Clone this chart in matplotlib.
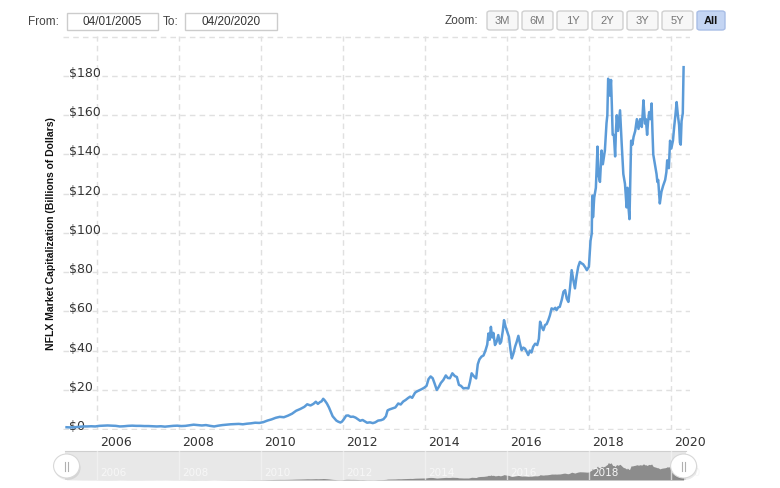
import matplotlib
matplotlib.use("Agg")
import matplotlib.pyplot as plt
from matplotlib.patches import FancyBboxPatch, Rectangle, Ellipse
from matplotlib.transforms import ScaledTranslation

# ---------------- data (decimal year, market cap in $B) ----------------
years = [
    2005.25, 2005.35, 2005.45, 2005.55, 2005.65, 2005.75, 2005.85, 2005.95,
    2006.05, 2006.15, 2006.25, 2006.35, 2006.45, 2006.55, 2006.65, 2006.75, 2006.85, 2006.95,
    2007.05, 2007.15, 2007.25, 2007.35, 2007.45, 2007.55, 2007.65, 2007.75, 2007.85, 2007.95,
    2008.05, 2008.15, 2008.25, 2008.35, 2008.45, 2008.55, 2008.65, 2008.75, 2008.85, 2008.95,
    2009.05, 2009.15, 2009.25, 2009.35, 2009.45, 2009.55, 2009.65, 2009.75, 2009.85, 2009.95,
    2010.05, 2010.15, 2010.25, 2010.35, 2010.45, 2010.55, 2010.65, 2010.75, 2010.85, 2010.95,
    2011.05, 2011.12, 2011.20, 2011.27, 2011.33, 2011.38, 2011.43, 2011.47, 2011.51, 2011.55,
    2011.60, 2011.65, 2011.70, 2011.74, 2011.78, 2011.83, 2011.88, 2011.93, 2011.97,
    2012.02, 2012.07, 2012.12, 2012.18, 2012.24, 2012.30, 2012.36, 2012.41, 2012.47, 2012.53,
    2012.58, 2012.65, 2012.72, 2012.78, 2012.85, 2012.92, 2012.98,
    2013.04, 2013.08, 2013.13, 2013.20, 2013.27, 2013.34, 2013.40, 2013.46, 2013.52, 2013.58,
    2013.63, 2013.68, 2013.75, 2013.80, 2013.86, 2013.91, 2013.97,
    2014.03, 2014.08, 2014.13, 2014.18, 2014.23, 2014.28, 2014.33, 2014.38, 2014.44, 2014.50,
    2014.55, 2014.60, 2014.66, 2014.72, 2014.77, 2014.82, 2014.87, 2014.93, 2014.99,
    2015.05, 2015.09, 2015.13, 2015.18, 2015.24, 2015.28, 2015.32, 2015.37, 2015.42, 2015.47,
    2015.51, 2015.54, 2015.57, 2015.60, 2015.63, 2015.66, 2015.70, 2015.74, 2015.78, 2015.82,
    2015.85, 2015.89, 2015.92, 2015.96,
    2016.00, 2016.04, 2016.08, 2016.11, 2016.15, 2016.19, 2016.23, 2016.27, 2016.31, 2016.35,
    2016.39, 2016.43, 2016.47, 2016.51, 2016.55, 2016.59, 2016.63, 2016.68, 2016.73, 2016.77,
    2016.80, 2016.84, 2016.88, 2016.92, 2016.96,
    2017.00, 2017.04, 2017.08, 2017.13, 2017.17, 2017.20, 2017.24, 2017.28, 2017.33, 2017.37,
    2017.41, 2017.45, 2017.49, 2017.53, 2017.57, 2017.61, 2017.65, 2017.69, 2017.73, 2017.77,
    2017.81, 2017.85, 2017.90, 2017.94, 2017.99,
    2018.03, 2018.06, 2018.07, 2018.08, 2018.09, 2018.12, 2018.16, 2018.20, 2018.22, 2018.26,
    2018.30, 2018.33, 2018.38, 2018.42, 2018.44, 2018.46, 2018.48, 2018.50, 2018.53, 2018.55,
    2018.57, 2018.60, 2018.63, 2018.65, 2018.67, 2018.70, 2018.72, 2018.75, 2018.79, 2018.83,
    2018.87, 2018.91, 2018.93, 2018.96, 2018.98,
    2019.02, 2019.05, 2019.08, 2019.12, 2019.16, 2019.20, 2019.24, 2019.28, 2019.30, 2019.32,
    2019.34, 2019.36, 2019.38, 2019.41, 2019.43, 2019.46, 2019.49, 2019.52, 2019.54, 2019.56,
    2019.60, 2019.64, 2019.66, 2019.68, 2019.72, 2019.76, 2019.80, 2019.85, 2019.88, 2019.90,
    2019.94, 2019.97,
    2020.00, 2020.04, 2020.07, 2020.10, 2020.13, 2020.16, 2020.19, 2020.21, 2020.23, 2020.25,
    2020.28, 2020.30,
]
market_cap = [
    0.9, 0.8, 0.9, 1.1, 1.3, 1.3, 1.4, 1.3,
    1.6, 1.7, 1.8, 1.7, 1.6, 1.3, 1.4, 1.6, 1.7, 1.6,
    1.6, 1.5, 1.5, 1.4, 1.3, 1.4, 1.2, 1.4, 1.6, 1.7,
    1.5, 1.6, 1.9, 2.2, 2.0, 1.8, 2.0, 1.6, 1.3, 1.7,
    2.0, 2.2, 2.4, 2.5, 2.6, 2.4, 2.7, 2.9, 3.2, 3.1,
    3.5, 4.3, 4.9, 5.7, 6.2, 6.0, 6.8, 7.8, 9.3, 10.2,
    11.3, 12.6, 12.0, 12.8, 13.9, 12.8, 13.7, 14.1, 15.4, 14.5,
    13.0, 11.0, 8.5, 6.5, 5.5, 4.3, 3.7, 3.3, 3.8,
    5.2, 6.8, 6.9, 6.2, 6.3, 5.8, 4.9, 4.2, 4.6, 3.8,
    3.2, 3.4, 3.0, 3.4, 4.3, 4.5, 5.0,
    6.5, 9.5, 10.0, 10.5, 11.0, 13.0, 12.5, 14.0, 14.8, 15.8,
    16.5, 15.9, 18.5, 19.2, 19.8, 20.3, 21.0,
    22.0, 25.5, 26.8, 25.9, 23.0, 19.9, 21.5, 23.5, 25.0, 27.3,
    26.0, 25.9, 28.4, 27.0, 26.5, 22.5, 22.0, 20.7, 20.9,
    20.7, 24.0, 28.4, 27.0, 25.8, 33.0, 35.5, 36.9, 37.5, 40.2,
    43.0, 48.7, 45.5, 52.1, 46.7, 49.0, 42.8, 44.5, 47.9, 43.5,
    44.5, 50.0, 55.5, 52.0,
    49.5, 47.0, 40.0, 36.0, 38.5, 42.0, 44.5, 47.5, 43.5, 40.2,
    41.5, 41.0, 39.5, 37.7, 40.0, 39.0, 41.9, 43.5, 42.8, 46.0,
    54.7, 52.0, 50.4, 53.0, 53.5,
    55.5, 58.0, 61.5, 61.0, 61.8, 60.6, 62.0, 62.3, 66.0, 70.0,
    70.8, 66.5, 64.8, 72.0, 81.0, 76.0, 71.7, 78.0, 82.7, 85.2,
    84.5, 84.0, 82.5, 81.0, 82.7,
    96.0, 99.7, 116.7, 119.0, 108.0, 118.0, 123.0, 144.0, 130.0, 126.0,
    142.0, 135.0, 142.0, 156.0, 160.0, 178.6, 176.0, 170.0, 178.0, 165.0,
    150.0, 150.0, 139.0, 152.0, 160.0, 152.0, 156.0, 162.5, 145.5, 130.0,
    125.0, 113.0, 123.0, 112.0, 107.0,
    147.0, 145.0, 149.0, 152.0, 158.0, 153.0, 158.0, 154.0, 160.0, 167.6,
    162.0, 155.7, 158.0, 150.0, 156.0, 161.6, 158.0, 166.0, 152.0, 140.0,
    135.0, 130.0, 126.0, 127.0, 115.0, 121.0, 124.0, 127.0, 131.0, 137.0,
    133.0, 147.0,
    143.0, 147.0, 154.0, 160.0, 166.7, 160.0, 155.0, 146.0, 145.0, 157.0,
    161.0, 184.5,
]
x_ticks = [2006, 2008, 2010, 2012, 2014, 2016, 2018, 2020]
y_ticks = [0, 20, 40, 60, 80, 100, 120, 140, 160, 180, 200]
y_tick_labels = ["$" + str(v) for v in y_ticks[:-1]] + [""]
y_title = "NFLX Market Capitalization (Billions of Dollars)"
from_date = "04/01/2005"
to_date = "04/20/2020"
zoom_buttons = ["3M", "6M", "1Y", "2Y", "3Y", "5Y", "All"]

# ---------------- figure ----------------
W, H = 780, 488
fig = plt.figure(figsize=(W / 100, H / 100), dpi=100)
fig.patch.set_facecolor("white")


def fx(px):
    return px / W


def fy(py):
    return 1 - py / H


def offset(dx_px, dy_px):
    return ScaledTranslation(dx_px / 100, dy_px / 100, fig.dpi_scale_trans)


# pixel mapping of the reference: $0 at y=429, $180 at y=76; 2006 at x=97.3, 41 px/year
px_per_unit = (429 - 76) / 180.0
y_top_px, y_bot_px = 36, 430
ymin = -(y_bot_px - 429) / px_per_unit
ymax = (429 - y_top_px) / px_per_unit
px_per_year = 41.0


def year_at(px):
    return 2006 + (px - 97.3) / px_per_year


x_left_px, x_right_px = 63, 690
ax = fig.add_axes([fx(x_left_px), fy(y_bot_px), fx(x_right_px) - fx(x_left_px), fy(y_top_px) - fy(y_bot_px)])
ax.set_xlim(year_at(x_left_px), year_at(x_right_px))
ax.set_ylim(ymin, ymax)
for s in ax.spines.values():
    s.set_visible(False)
ax.grid(True, color="#e0e0e0", linewidth=1, linestyle=(0, (4, 3)))
ax.set_axisbelow(True)

ax.plot(years, market_cap, color="#5b9bd8", linewidth=1.8, solid_joinstyle="round", zorder=3)

ax.set_xticks(x_ticks)
ax.set_xticklabels([str(y) for y in x_ticks])
ax.set_yticks(y_ticks)
ax.set_yticklabels(y_tick_labels)
ax.tick_params(axis="x", length=0, pad=4, labelsize=9, labelcolor="#333333")
ax.tick_params(axis="y", length=0, pad=0, labelsize=9, labelcolor="#333333")
for lab in ax.get_xticklabels():
    lab.set_horizontalalignment("left")
    lab.set_transform(lab.get_transform() + offset(3, 0))
for lab in ax.get_yticklabels():
    lab.set_horizontalalignment("left")
    lab.set_transform(lab.get_transform() + offset(6, 4))

ax.set_ylabel(y_title, fontsize=7.5, fontweight="bold", color="#111111",
              family=["Liberation Sans Narrow", "Liberation Sans", "DejaVu Sans"])
ax.yaxis.set_label_coords((56 - x_left_px) / (x_right_px - x_left_px), (429 - 233) / (y_bot_px - y_top_px))

# ---------------- navigator ----------------
nav_l, nav_r, nav_t, nav_b = 65, 686, 451, 480
nav = fig.add_axes([fx(nav_l), fy(nav_b), fx(nav_r) - fx(nav_l), fy(nav_t) - fy(nav_b)])
nav.set_facecolor("#e8e8e8")
nav.set_xlim(year_at(nav_l), year_at(nav_r))
nav.set_ylim(0, 300)
nav.fill_between(years, market_cap, 0, color="#8c8c8c", linewidth=0)
for k, s in nav.spines.items():
    s.set_visible(k == "top")
nav.spines["top"].set_color("#cfcfcf")
nav.set_yticks([])
nav.set_xticks(x_ticks)
nav.set_xticklabels([str(y) for y in x_ticks])
nav.tick_params(axis="x", length=0, pad=-8.5, labelsize=7.5, labelcolor="#f7f7f7")
for lab in nav.get_xticklabels():
    lab.set_horizontalalignment("left")
    lab.set_transform(lab.get_transform() + offset(3, 0))
nav.grid(True, axis="x", color="#f4f4f4", linewidth=1, alpha=0.7)
nav.set_axisbelow(False)

# handles at the ends of the data range
for hyear in (years[0], years[-1]):
    hx = 97.3 + (hyear - 2006) * px_per_year
    sh = Ellipse((fx(hx + 1), fy(468)), 26 / W, 24 / H, transform=fig.transFigure,
                 facecolor="#000000", alpha=0.08, edgecolor="none")
    fig.add_artist(sh)
    c = Ellipse((fx(hx), fy(466)), 26 / W, 24 / H, transform=fig.transFigure,
                facecolor="white", edgecolor="#d8d8d8", linewidth=0.8)
    fig.add_artist(c)
    for gx in (-1.5, 1.5):
        fig.add_artist(plt.Line2D([fx(hx + gx), fx(hx + gx)], [fy(461.5), fy(470.5)],
                                  transform=fig.transFigure, color="#b0b0b0", linewidth=0.8))

# ---------------- range selector / inputs ----------------
ui_font = ["Liberation Sans", "DejaVu Sans"]
fig.text(fx(28), fy(22), "From:", fontsize=8.5, color="#444444", family=ui_font, va="center", ha="left")
fig.text(fx(163), fy(22), "To:", fontsize=8.5, color="#444444", family=ui_font, va="center", ha="left")
for (bx0, bx1), label in [((67, 158), from_date), ((185, 277), to_date)]:
    fig.add_artist(Rectangle((fx(bx0), fy(30)), fx(bx1) - fx(bx0), fy(13) - fy(30),
                             transform=fig.transFigure, facecolor="white", edgecolor="#cccccc", linewidth=1))
    fig.text(fx((bx0 + bx1) / 2), fy(22), label, fontsize=8.5, color="#333333",
             family=ui_font, va="center", ha="center")

fig.text(fx(478), fy(21), "Zoom:", fontsize=8.5, color="#444444", family=ui_font, va="center", ha="right")
bw, pitch, b0 = 31, 35, 487
for i, lab in enumerate(zoom_buttons):
    x0 = b0 + i * pitch
    w = bw if lab != "All" else 28
    active = lab == "All"
    fig.add_artist(FancyBboxPatch((fx(x0), fy(30)), fx(w), fy(11) - fy(30),
                                  boxstyle="round,pad=0,rounding_size=0.004",
                                  transform=fig.transFigure,
                                  facecolor="#c4d5f3" if active else "#f7f7f7",
                                  edgecolor="#a8bde6" if active else "#d0d0d0", linewidth=1))
    fig.text(fx(x0 + w / 2), fy(21), lab, fontsize=8, family=ui_font, va="center", ha="center",
             color="#111111" if active else "#777777", fontweight="bold" if active else "normal")

fig.savefig("out.png", dpi=100, facecolor="white")
